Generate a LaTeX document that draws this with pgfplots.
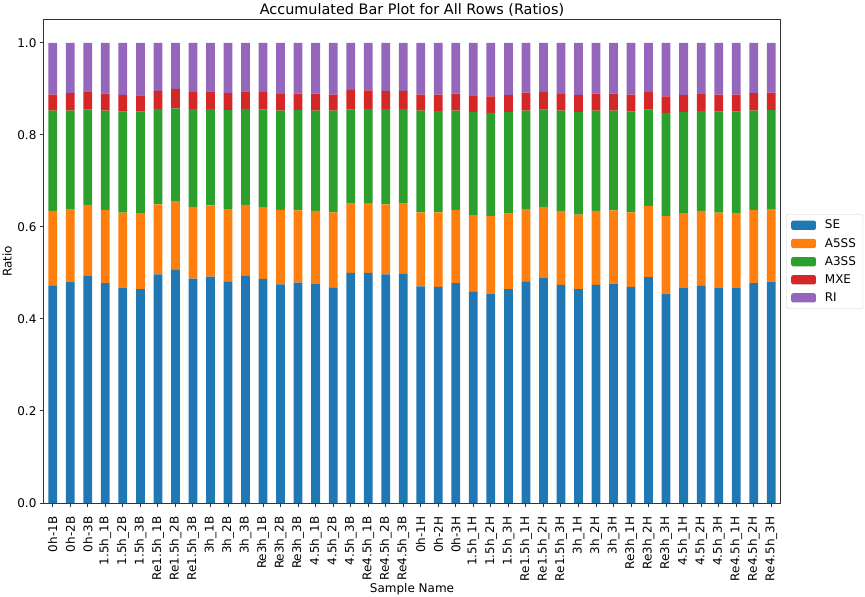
\documentclass[border=0pt]{standalone}
\usepackage{fontspec}
\setmainfont{DejaVu Sans}
\usepackage{pgfplots}
\usepackage{pgfplotstable}
\pgfplotsset{compat=1.18}
\definecolor{cSE}{HTML}{1F77B4}
\definecolor{cA5}{HTML}{FF7F0E}
\definecolor{cA3}{HTML}{2CA02C}
\definecolor{cMX}{HTML}{D62728}
\definecolor{cRI}{HTML}{9467BD}
\pgfplotstableread{
x SE A5SS A3SS MXE RI
0 0.473 0.162 0.218 0.035 0.112
1 0.481 0.157 0.215 0.038 0.109
2 0.494 0.154 0.207 0.040 0.105
3 0.478 0.159 0.216 0.037 0.110
4 0.468 0.163 0.220 0.036 0.113
5 0.465 0.165 0.221 0.035 0.114
6 0.497 0.152 0.208 0.039 0.104
7 0.508 0.148 0.202 0.042 0.100
8 0.488 0.156 0.212 0.037 0.107
9 0.492 0.155 0.209 0.039 0.105
10 0.482 0.157 0.215 0.037 0.109
11 0.494 0.154 0.209 0.038 0.105
12 0.487 0.156 0.212 0.038 0.107
13 0.475 0.162 0.216 0.036 0.111
14 0.479 0.157 0.218 0.036 0.110
15 0.476 0.159 0.218 0.037 0.110
16 0.469 0.163 0.221 0.035 0.112
17 0.500 0.151 0.204 0.043 0.102
18 0.500 0.152 0.205 0.040 0.103
19 0.497 0.152 0.207 0.040 0.104
20 0.498 0.153 0.205 0.040 0.104
21 0.471 0.161 0.221 0.035 0.112
22 0.470 0.162 0.220 0.036 0.112
23 0.478 0.159 0.216 0.037 0.110
24 0.460 0.166 0.224 0.036 0.114
25 0.455 0.169 0.224 0.036 0.116
26 0.465 0.164 0.221 0.037 0.113
27 0.482 0.157 0.214 0.039 0.108
28 0.489 0.155 0.211 0.039 0.106
29 0.474 0.161 0.218 0.036 0.111
30 0.465 0.162 0.223 0.037 0.113
31 0.474 0.161 0.218 0.037 0.110
32 0.477 0.159 0.217 0.037 0.110
33 0.470 0.162 0.219 0.037 0.112
34 0.491 0.155 0.209 0.039 0.106
35 0.455 0.169 0.224 0.036 0.116
36 0.467 0.163 0.220 0.037 0.113
37 0.473 0.162 0.217 0.037 0.111
38 0.467 0.164 0.220 0.037 0.112
39 0.468 0.162 0.221 0.037 0.112
40 0.478 0.159 0.216 0.038 0.109
41 0.481 0.158 0.215 0.038 0.108
}\datatable
\begin{document}
\begin{tikzpicture}
\path[use as bounding box] (-44pt,-94pt) rectangle (821pt,503pt);
\begin{axis}[
  scale only axis,
  width=736pt, height=483pt,
  at={(0pt,0pt)}, anchor=south west,
  font=\fontsize{12}{14}\selectfont,
  ybar stacked,
  bar width=0.5,
  xmin=-0.5, xmax=41.5,
  ymin=0, ymax=1.05,
  xtick=data,
  xticklabels={0h-1B,0h-2B,0h-3B,1.5h\_1B,1.5h\_2B,1.5h\_3B,Re1.5h\_1B,Re1.5h\_2B,Re1.5h\_3B,3h\_1B,3h\_2B,3h\_3B,Re3h\_1B,Re3h\_2B,Re3h\_3B,4.5h\_1B,4.5h\_2B,4.5h\_3B,Re4.5h\_1B,Re4.5h\_2B,Re4.5h\_3B,0h-1H,0h-2H,0h-3H,1.5h\_1H,1.5h\_2H,1.5h\_3H,Re1.5h\_1H,Re1.5h\_2H,Re1.5h\_3H,3h\_1H,3h\_2H,3h\_3H,Re3h\_1H,Re3h\_2H,Re3h\_3H,4.5h\_1H,4.5h\_2H,4.5h\_3H,Re4.5h\_1H,Re4.5h\_2H,Re4.5h\_3H},
  ytick={0,0.2,0.4,0.6,0.8,1.0},
  /pgf/number format/fixed,
  /pgf/number format/fixed zerofill,
  /pgf/number format/precision=1,
  /pgf/number format/assume math mode=true,
  xticklabel style={rotate=90, anchor=east, inner sep=0pt, font=\fontsize{12}{14}\selectfont},
  yticklabel style={inner sep=0pt, xshift=-3pt},
  xticklabel shift=9pt,
  tick align=outside,
  xtick pos=lower, ytick pos=left,
  major tick length=4.4pt,
  tick style={black!80, line width=1pt},
  axis line style={black!80, line width=1pt},
  title={Accumulated Bar Plot for All Rows (Ratios)},
  title style={font=\fontsize{14.4}{16}\selectfont, at={(axis description cs:0.5,1)}, anchor=base, yshift=-1pt, inner sep=0pt},
  xlabel={Sample Name},
  xlabel style={at={(axis description cs:0.5,-0.1853)}, anchor=base, inner sep=0pt},
  ylabel={Ratio},
  ylabel style={at={(axis description cs:-0.0499,0.5)}, anchor=center, inner sep=0pt},
  legend style={at={(1,0.5)}, anchor=west, xshift=6pt, draw=black!20, rounded corners=2pt, font=\fontsize{12}{14}\selectfont, inner xsep=5pt, inner ysep=3.5pt, row sep=3.8pt, cells={anchor=west},
    /tikz/every odd column/.append style={column sep=7pt}},
  legend image code/.code={\path[#1, draw=none] (0pt,-4.65pt) rectangle (24.7pt,4.65pt);},
]
\addplot[fill=cSE, draw=none] table[x=x, y=SE] {\datatable};
\addplot[fill=cA5, draw=none] table[x=x, y=A5SS] {\datatable};
\addplot[fill=cA3, draw=none] table[x=x, y=A3SS] {\datatable};
\addplot[fill=cMX, draw=none] table[x=x, y=MXE] {\datatable};
\addplot[fill=cRI, draw=none] table[x=x, y=RI] {\datatable};
\legend{SE,A5SS,A3SS,MXE,RI}
\end{axis}
\end{tikzpicture}
\end{document}
